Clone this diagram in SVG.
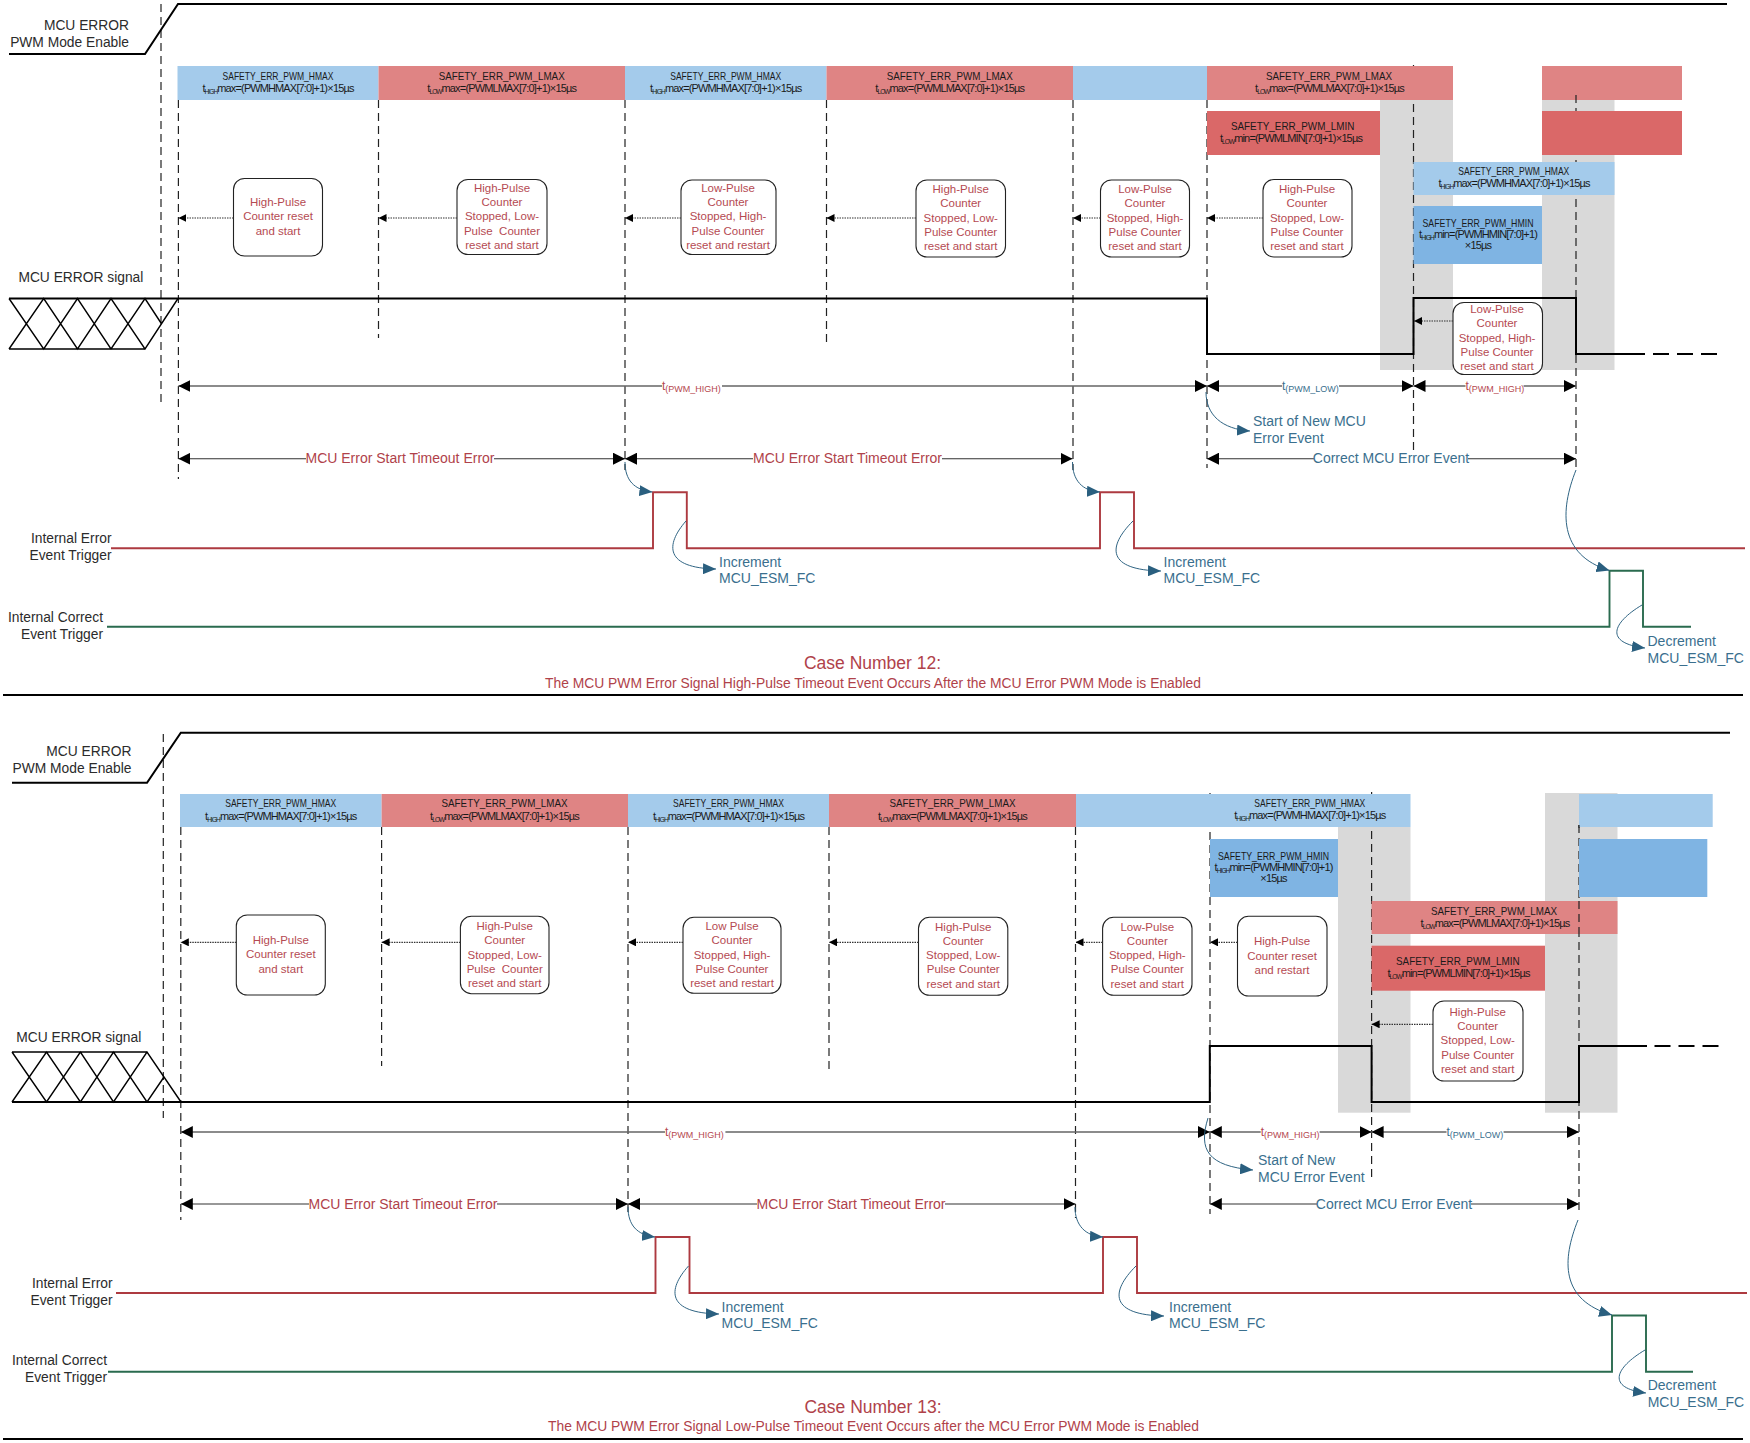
<svg xmlns="http://www.w3.org/2000/svg" width="1750" height="1443" viewBox="0 0 1750 1443">
<style>
text{font-family:"Liberation Sans",Arial,sans-serif}
.lab{font-size:13.8px;fill:#2b2b2b}
.end{text-anchor:end}
.bar{font-size:11px;fill:#1a1a1a;text-anchor:middle}
.eq{letter-spacing:-.9px;word-spacing:-2px}
.s{font-size:6.5px}
.bt{font-size:11.5px;fill:#b54a52;text-anchor:middle}
.pre{white-space:pre}
.r14{font-size:14px;fill:#b0424a}
.t14{font-size:14px;fill:#3a6f8e}
.mid{text-anchor:middle}
.tr{font-size:12px;fill:#b5474f}
.tt{font-size:12px;fill:#3a6f8e}
.sub{font-size:9px}
.title{font-size:17.5px;fill:#b0424a;text-anchor:middle}
.subtitle{font-size:14px;fill:#b0424a;text-anchor:middle}
.blue{fill:#a4cbeb}.dblue{fill:#7fb4e3}.red{fill:#df8484}.dred{fill:#da6868}.gray{fill:#d9d9d9}
.box{fill:#fff;stroke:#222;stroke-width:1.1}
.dash{fill:none;stroke:#222;stroke-width:1.2;stroke-dasharray:8 5}
.sig{fill:none;stroke:#000;stroke-width:2}
.xing{fill:none;stroke:#000;stroke-width:1.4}
.dots{fill:none;stroke:#333;stroke-width:1.2;stroke-dasharray:1.5 1;marker-end:url(#small)}
.seg{fill:none;stroke:#666;stroke-width:1.5;marker-start:url(#big);marker-end:url(#big)}
.to{fill:none;stroke:#333;stroke-width:1.1;marker-start:url(#big);marker-end:url(#big)}
.ierr{fill:none;stroke:#ad3a40;stroke-width:1.9}
.icor{fill:none;stroke:#2a6b4f;stroke-width:1.9}
.curve{fill:none;stroke:#2f6483;stroke-width:1;marker-end:url(#teal)}
.rule{fill:none;stroke:#000;stroke-width:1.8}
</style>
<defs>
<marker id="big" markerUnits="userSpaceOnUse" markerWidth="12" markerHeight="12" refX="12" refY="6" orient="auto-start-reverse"><path d="M0 0L12 6L0 12Z" fill="#000"/></marker>
<marker id="small" markerUnits="userSpaceOnUse" markerWidth="8" markerHeight="8" refX="8" refY="4" orient="auto"><path d="M0 0L8 4L0 8Z" fill="#000"/></marker>
<marker id="teal" markerUnits="userSpaceOnUse" markerWidth="13" markerHeight="11" refX="13" refY="5.5" orient="auto"><path d="M0 0L13 5.5L0 11Z" fill="#2a5f7f"/></marker>
</defs>

<!-- Case 12 -->
<g id="case12-bands">
<rect class="gray" x="1380" y="100" width="73" height="270"/>
<rect class="gray" x="1542" y="100" width="72.5" height="270"/>
</g>

<g id="case12-dividers">
<path class="dash" d="M161 4V407"/>
<path class="dash" d="M178.4 100V479"/>
<path class="dash" d="M378.5 100V338"/>
<path class="dash" d="M625 100V470"/>
<path class="dash" d="M826.5 100V346"/>
<path class="dash" d="M1073 100V470"/>
<path class="dash" d="M1207 100V468"/>
<path class="dash" d="M1413.5 65V453"/>
<path class="dash" d="M1576 95V470"/>
</g>

<g id="case12-bars">
<rect class="blue" x="177.5" y="66" width="201" height="34"/>
<rect class="red" x="378.5" y="66" width="246.5" height="34"/>
<rect class="blue" x="625" y="66" width="201.5" height="34"/>
<rect class="red" x="826.5" y="66" width="246.5" height="34"/>
<rect class="blue" x="1073" y="66" width="134" height="34"/>
<rect class="red" x="1207" y="66" width="246" height="34"/>
<rect class="red" x="1542" y="66" width="140" height="34"/>
<rect class="dred" x="1207" y="111" width="173" height="44"/>
<rect class="dred" x="1542" y="111" width="140" height="44"/>
<rect class="blue" x="1413.5" y="162" width="201" height="33"/>
<rect class="dblue" x="1413.5" y="206" width="128.5" height="58"/>
<path class="dash" d="M1576 95V100" stroke-dasharray="none"/>
<text class="bar" x="278" y="79.5" textLength="111" lengthAdjust="spacingAndGlyphs">SAFETY_ERR_PWM_HMAX</text>
<text class="bar eq" x="278" y="92">t<tspan class="s" dy="2">HIGH</tspan><tspan dy="-2">max = (PWMHMAX [7:0] + 1) × 15 µs</tspan></text>
<text class="bar" x="501.7" y="79.5" textLength="126" lengthAdjust="spacingAndGlyphs">SAFETY_ERR_PWM_LMAX</text>
<text class="bar eq" x="501.7" y="92">t<tspan class="s" dy="2">LOW</tspan><tspan dy="-2">max = (PWMLMAX [7:0] + 1) × 15 µs</tspan></text>
<text class="bar" x="725.7" y="79.5" textLength="111" lengthAdjust="spacingAndGlyphs">SAFETY_ERR_PWM_HMAX</text>
<text class="bar eq" x="725.7" y="92">t<tspan class="s" dy="2">HIGH</tspan><tspan dy="-2">max = (PWMHMAX [7:0] + 1) × 15 µs</tspan></text>
<text class="bar" x="949.7" y="79.5" textLength="126" lengthAdjust="spacingAndGlyphs">SAFETY_ERR_PWM_LMAX</text>
<text class="bar eq" x="949.7" y="92">t<tspan class="s" dy="2">LOW</tspan><tspan dy="-2">max = (PWMLMAX [7:0] + 1) × 15 µs</tspan></text>
<text class="bar" x="1329" y="79.5" textLength="126" lengthAdjust="spacingAndGlyphs">SAFETY_ERR_PWM_LMAX</text>
<text class="bar eq" x="1329.5" y="92">t<tspan class="s" dy="2">LOW</tspan><tspan dy="-2">max = (PWMLMAX [7:0] + 1) × 15 µs</tspan></text>
<text class="bar" x="1292.7" y="130" textLength="123.6" lengthAdjust="spacingAndGlyphs">SAFETY_ERR_PWM_LMIN</text>
<text class="bar eq" x="1291" y="142">t<tspan class="s" dy="2">LOW</tspan><tspan dy="-2">min = (PWMLMIN [7:0] + 1) × 15 µs</tspan></text>
<text class="bar" x="1513.8" y="174.5" textLength="111" lengthAdjust="spacingAndGlyphs">SAFETY_ERR_PWM_HMAX</text>
<text class="bar eq" x="1514" y="187">t<tspan class="s" dy="2">HIGH</tspan><tspan dy="-2">max = (PWMHMAX [7:0] + 1) × 15 µs</tspan></text>
<text class="bar" x="1478" y="227" textLength="111" lengthAdjust="spacingAndGlyphs">SAFETY_ERR_PWM_HMIN</text>
<text class="bar eq" x="1478" y="238">t<tspan class="s" dy="2">HIGH</tspan><tspan dy="-2">min = (PWMHMIN[7:0] + 1)</tspan></text>
<text class="bar eq" x="1478" y="249">× 15 µs</text>
</g>

<g id="case12-enable">
<path class="sig" d="M9 54H145L178 4H1727"/>
<text class="lab end" x="129" y="30">MCU ERROR</text>
<text class="lab end" x="129" y="47">PWM Mode Enable</text>
</g>

<g id="case12-signal">
<path class="xing" d="M9 298.5L43.7 349L77.5 298.5L111 349L145 298.5L161 323M9 349L43.7 298.5L77.5 349L111 298.5L145 349L178 298.5M9 349H145"/>
<path class="sig" d="M9 298.5H1207V354H1413.5V298H1576V354H1645"/>
<path class="sig" d="M1653 354H1717" stroke-dasharray="16 8"/>
<text class="lab" x="18.4" y="282">MCU ERROR signal</text>
</g>

<g id="case12-b1"><rect class="box" x="233.5" y="178.5" width="89" height="77.5" rx="11"/>
<text class="bt"><tspan x="278" y="206">High-Pulse</tspan><tspan x="278" y="220.3">Counter reset</tspan><tspan x="278" y="234.6">and start</tspan></text></g>
<g id="case12-b2"><rect class="box" x="457" y="179.5" width="90" height="75" rx="11"/>
<text class="bt pre"><tspan x="502" y="191.7">High-Pulse</tspan><tspan x="502" y="206">Counter</tspan><tspan x="502" y="220.3">Stopped, Low-</tspan><tspan x="502" y="234.6">Pulse  Counter</tspan><tspan x="502" y="248.9">reset and start</tspan></text></g>
<g id="case12-b3"><rect class="box" x="681" y="180" width="95" height="74.5" rx="11"/>
<text class="bt"><tspan x="728" y="191.7">Low-Pulse</tspan><tspan x="728" y="206">Counter</tspan><tspan x="728" y="220.3">Stopped, High-</tspan><tspan x="728" y="234.6">Pulse Counter</tspan><tspan x="728" y="248.9">reset and restart</tspan></text></g>
<g id="case12-b4"><rect class="box" x="916" y="180" width="89.5" height="77" rx="11"/>
<text class="bt"><tspan x="960.7" y="193">High-Pulse</tspan><tspan x="960.7" y="207.3">Counter</tspan><tspan x="960.7" y="221.6">Stopped, Low-</tspan><tspan x="960.7" y="235.9">Pulse Counter</tspan><tspan x="960.7" y="250.2">reset and start</tspan></text></g>
<g id="case12-b5"><rect class="box" x="1100.5" y="180" width="89" height="77" rx="11"/>
<text class="bt"><tspan x="1145" y="193">Low-Pulse</tspan><tspan x="1145" y="207.3">Counter</tspan><tspan x="1145" y="221.6">Stopped, High-</tspan><tspan x="1145" y="235.9">Pulse Counter</tspan><tspan x="1145" y="250.2">reset and start</tspan></text></g>
<g id="case12-b6"><rect class="box" x="1263" y="179.5" width="89" height="77.5" rx="11"/>
<text class="bt"><tspan x="1307" y="193">High-Pulse</tspan><tspan x="1307" y="207.3">Counter</tspan><tspan x="1307" y="221.6">Stopped, Low-</tspan><tspan x="1307" y="235.9">Pulse Counter</tspan><tspan x="1307" y="250.2">reset and start</tspan></text></g>
<g id="case12-b7"><rect class="box" x="1453" y="302.5" width="89.5" height="72" rx="11"/>
<text class="bt"><tspan x="1497" y="313">Low-Pulse</tspan><tspan x="1497" y="327.3">Counter</tspan><tspan x="1497" y="341.6">Stopped, High-</tspan><tspan x="1497" y="355.9">Pulse Counter</tspan><tspan x="1497" y="370.2">reset and start</tspan></text></g>

<g id="case12-pulses">
<path class="ierr" d="M111 548.3H653V492.3H686.8V548.3H1100V492.3H1134V548.3H1745"/>
<path class="icor" d="M107 626.7H1609.5V570.7H1643V626.7H1691"/>
<text class="lab end" x="111.5" y="543">Internal Error</text>
<text class="lab end" x="111.5" y="560">Event Trigger</text>
<text class="lab end" x="103" y="622">Internal Correct</text>
<text class="lab end" x="103" y="639">Event Trigger</text>
</g>

<g id="case12-connectors">
<path class="dots" d="M233.5 218H178.4"/>
<path class="dots" d="M457 218H378.5"/>
<path class="dots" d="M681 218H625"/>
<path class="dots" d="M916 218H826.5"/>
<path class="dots" d="M1100.5 218H1073"/>
<path class="dots" d="M1263 218H1207"/>
<path class="dots" d="M1453 321H1414"/>
<path class="seg" d="M178.4 386H662M722 386H1207"/>
<path class="seg" d="M1207 386H1282M1339 386H1413.5"/>
<path class="seg" d="M1413.5 386H1465.5M1523.6 386H1576"/>
<path class="to" d="M178.4 458.7H306M494 458.7H625"/>
<path class="to" d="M625 458.7H753M942 458.7H1072.5"/>
<path class="to" d="M1207 458.7H1314M1468 458.7H1576"/>
<path class="curve" d="M625 462C625 480 634 490 652.4 492"/>
<path class="curve" d="M1072.5 462C1072.5 480 1082 491 1100 492"/>
<path class="curve" d="M1206 392C1206 415 1222 429 1250 431"/>
<path class="curve" d="M686 521C665 545 665 568 716 569"/>
<path class="curve" d="M1133 521C1107 547 1107 570 1161 571"/>
<path class="curve" d="M1576 470C1560 510 1558 555 1609.5 570.5"/>
<path class="curve" d="M1642 605C1612 623 1604 643 1645 648"/>
</g>

<g id="case12-labels">
<text class="tr" x="662" y="390">t<tspan class="sub" dy="2">(PWM_HIGH)</tspan></text>
<text class="tt" x="1282" y="390">t<tspan class="sub" dy="2">(PWM_LOW)</tspan></text>
<text class="tr" x="1465.5" y="390">t<tspan class="sub" dy="2">(PWM_HIGH)</tspan></text>
<text class="r14 mid" x="400" y="463">MCU Error Start Timeout Error</text>
<text class="r14 mid" x="847.5" y="463">MCU Error Start Timeout Error</text>
<text class="t14 mid" x="1391" y="463">Correct MCU Error Event</text>
<text class="t14" x="1253" y="426">Start of New MCU</text>
<text class="t14" x="1253" y="443">Error Event</text>
<text class="t14" x="719" y="566.7">Increment</text>
<text class="t14" x="719" y="583">MCU_ESM_FC</text>
<text class="t14" x="1163.6" y="566.7">Increment</text>
<text class="t14" x="1163.6" y="583">MCU_ESM_FC</text>
<text class="t14" x="1647.5" y="645.5">Decrement</text>
<text class="t14" x="1647.5" y="662.5">MCU_ESM_FC</text>
<text class="title" x="872.5" y="669">Case Number 12:</text>
<text class="subtitle" x="873" y="687.5" textLength="656" lengthAdjust="spacingAndGlyphs">The MCU PWM Error Signal High-Pulse Timeout Event Occurs After the MCU Error PWM Mode is Enabled</text>
<path class="rule" d="M3 695H1743"/>
</g>

<!-- Case 13 -->
<g id="case13-bands">
<rect class="gray" x="1338" y="827" width="72.5" height="285.7"/>
<rect class="gray" x="1545" y="793" width="72.5" height="319.7"/>
</g>

<g id="case13-dividers">
<path class="dash" d="M163.3 734V1118"/>
<path class="dash" d="M180.8 827V1220"/>
<path class="dash" d="M381.6 827V1066"/>
<path class="dash" d="M628 827V1216"/>
<path class="dash" d="M829 827V1074"/>
<path class="dash" d="M1075.5 827V1218"/>
<path class="dash" d="M1210 793V1214"/>
<path class="dash" d="M1371.6 792V1180"/>
<path class="dash" d="M1579 825V1212"/>
</g>

<g id="case13-bars">
<rect class="blue" x="180" y="794" width="201.6" height="33"/>
<rect class="red" x="381.6" y="794" width="246.4" height="33"/>
<rect class="blue" x="628" y="794" width="201" height="33"/>
<rect class="red" x="829" y="794" width="247" height="33"/>
<rect class="blue" x="1076" y="794" width="134" height="33"/>
<rect class="blue" x="1210" y="794" width="200.5" height="33"/>
<rect class="blue" x="1579" y="794" width="133.7" height="33"/>
<rect class="dblue" x="1210" y="839" width="128" height="58"/>
<rect class="dblue" x="1579" y="839" width="128.3" height="58"/>
<rect class="red" x="1371.6" y="901" width="245.9" height="33"/>
<rect class="dred" x="1371.6" y="945.7" width="173.4" height="45"/>
<path class="dash" d="M1579 825V828M1579 901V934"/>
<text class="bar" x="280.7" y="807.3" textLength="111" lengthAdjust="spacingAndGlyphs">SAFETY_ERR_PWM_HMAX</text>
<text class="bar eq" x="280.7" y="820">t<tspan class="s" dy="2">HIGH</tspan><tspan dy="-2">max = (PWMHMAX [7:0] + 1) × 15 µs</tspan></text>
<text class="bar" x="504.5" y="807.3" textLength="126" lengthAdjust="spacingAndGlyphs">SAFETY_ERR_PWM_LMAX</text>
<text class="bar eq" x="504.5" y="820">t<tspan class="s" dy="2">LOW</tspan><tspan dy="-2">max = (PWMLMAX [7:0] + 1) × 15 µs</tspan></text>
<text class="bar" x="728.5" y="807.3" textLength="111" lengthAdjust="spacingAndGlyphs">SAFETY_ERR_PWM_HMAX</text>
<text class="bar eq" x="728.5" y="820">t<tspan class="s" dy="2">HIGH</tspan><tspan dy="-2">max = (PWMHMAX [7:0] + 1) × 15 µs</tspan></text>
<text class="bar" x="952.5" y="807.3" textLength="126" lengthAdjust="spacingAndGlyphs">SAFETY_ERR_PWM_LMAX</text>
<text class="bar eq" x="952.5" y="820">t<tspan class="s" dy="2">LOW</tspan><tspan dy="-2">max = (PWMLMAX [7:0] + 1) × 15 µs</tspan></text>
<text class="bar" x="1309.8" y="806.7" textLength="111" lengthAdjust="spacingAndGlyphs">SAFETY_ERR_PWM_HMAX</text>
<text class="bar eq" x="1309.8" y="819.3">t<tspan class="s" dy="2">HIGH</tspan><tspan dy="-2">max = (PWMHMAX [7:0] + 1) × 15 µs</tspan></text>
<text class="bar" x="1273.5" y="860" textLength="111" lengthAdjust="spacingAndGlyphs">SAFETY_ERR_PWM_HMIN</text>
<text class="bar eq" x="1273.5" y="871">t<tspan class="s" dy="2">HIGH</tspan><tspan dy="-2">min = (PWMHMIN[7:0] + 1)</tspan></text>
<text class="bar eq" x="1273.5" y="881.7">× 15 µs</text>
<text class="bar" x="1494" y="915" textLength="126" lengthAdjust="spacingAndGlyphs">SAFETY_ERR_PWM_LMAX</text>
<text class="bar eq" x="1495" y="927">t<tspan class="s" dy="2">LOW</tspan><tspan dy="-2">max = (PWMLMAX [7:0] + 1) × 15 µs</tspan></text>
<text class="bar" x="1457.8" y="965.3" textLength="123.6" lengthAdjust="spacingAndGlyphs">SAFETY_ERR_PWM_LMIN</text>
<text class="bar eq" x="1458.5" y="977.3">t<tspan class="s" dy="2">LOW</tspan><tspan dy="-2">min = (PWMLMIN [7:0] + 1) × 15 µs</tspan></text>
</g>

<g id="case13-enable">
<path class="sig" d="M12 782.7H147L180.8 732.7H1730"/>
<text class="lab end" x="131.4" y="756">MCU ERROR</text>
<text class="lab end" x="131.4" y="773">PWM Mode Enable</text>
</g>

<g id="case13-signal">
<path class="xing" d="M12 1052L46.5 1102L80.4 1052L113.5 1102L147 1052L181 1102M12 1102L46.5 1052L80.4 1102L113.5 1052L147 1102L164 1077M12 1052H147"/>
<path class="sig" d="M12 1102H1209.8V1046H1371.6V1102H1579V1046H1647"/>
<path class="sig" d="M1654.5 1046H1720" stroke-dasharray="16 8"/>
<text class="lab" x="16.3" y="1041.7">MCU ERROR signal</text>
</g>

<g id="case13-b1"><rect class="box" x="236.3" y="915" width="89" height="80" rx="11"/>
<text class="bt"><tspan x="280.8" y="944">High-Pulse</tspan><tspan x="280.8" y="958.3">Counter reset</tspan><tspan x="280.8" y="972.6">and start</tspan></text></g>
<g id="case13-b2"><rect class="box" x="460.4" y="916.3" width="88.6" height="77.4" rx="11"/>
<text class="bt pre"><tspan x="504.7" y="930">High-Pulse</tspan><tspan x="504.7" y="944.3">Counter</tspan><tspan x="504.7" y="958.6">Stopped, Low-</tspan><tspan x="504.7" y="972.9">Pulse  Counter</tspan><tspan x="504.7" y="987.2">reset and start</tspan></text></g>
<g id="case13-b3"><rect class="box" x="683" y="917.3" width="98" height="76" rx="11"/>
<text class="bt"><tspan x="732" y="930">Low Pulse</tspan><tspan x="732" y="944.3">Counter</tspan><tspan x="732" y="958.6">Stopped, High-</tspan><tspan x="732" y="972.9">Pulse Counter</tspan><tspan x="732" y="987.2">reset and restart</tspan></text></g>
<g id="case13-b4"><rect class="box" x="918.5" y="917.3" width="89.3" height="78" rx="11"/>
<text class="bt"><tspan x="963.2" y="930.5">High-Pulse</tspan><tspan x="963.2" y="944.8">Counter</tspan><tspan x="963.2" y="959.1">Stopped, Low-</tspan><tspan x="963.2" y="973.4">Pulse Counter</tspan><tspan x="963.2" y="987.7">reset and start</tspan></text></g>
<g id="case13-b5"><rect class="box" x="1102.6" y="917.3" width="89.4" height="78" rx="11"/>
<text class="bt"><tspan x="1147.3" y="930.5">Low-Pulse</tspan><tspan x="1147.3" y="944.8">Counter</tspan><tspan x="1147.3" y="959.1">Stopped, High-</tspan><tspan x="1147.3" y="973.4">Pulse Counter</tspan><tspan x="1147.3" y="987.7">reset and start</tspan></text></g>
<g id="case13-b6"><rect class="box" x="1237.5" y="916.3" width="89.5" height="79.7" rx="11"/>
<text class="bt"><tspan x="1282" y="945.3">High-Pulse</tspan><tspan x="1282" y="959.6">Counter reset</tspan><tspan x="1282" y="974">and restart</tspan></text></g>
<g id="case13-b7"><rect class="box" x="1433" y="1001" width="90" height="80" rx="11"/>
<text class="bt"><tspan x="1477.7" y="1015.7">High-Pulse</tspan><tspan x="1477.7" y="1030">Counter</tspan><tspan x="1477.7" y="1044.3">Stopped, Low-</tspan><tspan x="1477.7" y="1058.6">Pulse Counter</tspan><tspan x="1477.7" y="1072.9">reset and start</tspan></text></g>

<g id="case13-pulses">
<path class="ierr" d="M116 1293H655.5V1237H689.5V1293H1103V1237H1137V1293H1747"/>
<path class="icor" d="M108 1371.7H1612V1315.5H1646V1371.7H1693"/>
<text class="lab end" x="112.5" y="1288">Internal Error</text>
<text class="lab end" x="112.5" y="1305">Event Trigger</text>
<text class="lab end" x="107" y="1365">Internal Correct</text>
<text class="lab end" x="107" y="1382">Event Trigger</text>
</g>

<g id="case13-connectors">
<path class="dots" d="M236.3 942.3H180.8"/>
<path class="dots" d="M460.4 942.3H381.6"/>
<path class="dots" d="M683 942.3H628"/>
<path class="dots" d="M918.5 942.3H829"/>
<path class="dots" d="M1102.6 942.3H1075.5"/>
<path class="dots" d="M1237.5 942.3H1210"/>
<path class="dots" d="M1433 1024.3H1371.6"/>
<path class="seg" d="M180.8 1132H665M725.4 1132H1209.8"/>
<path class="seg" d="M1209.8 1132H1260.7M1319.6 1132H1371.6"/>
<path class="seg" d="M1371.6 1132H1446.5M1503.6 1132H1579"/>
<path class="to" d="M180.8 1204H309M497 1204H628"/>
<path class="to" d="M628 1204H757M945 1204H1075.5"/>
<path class="to" d="M1209.8 1204H1317M1471 1204H1579"/>
<path class="curve" d="M628 1207C628 1225 637 1235 655 1237"/>
<path class="curve" d="M1075 1207C1075 1225 1085 1236 1103 1237"/>
<path class="curve" d="M1208 1118C1198 1150 1208 1166 1253 1170"/>
<path class="curve" d="M688.5 1266C667 1290 667 1313 719 1314"/>
<path class="curve" d="M1136 1266C1110 1292 1110 1315 1164 1316"/>
<path class="curve" d="M1578 1220C1562 1260 1560 1300 1612 1315"/>
<path class="curve" d="M1645 1350C1615 1368 1606 1388 1646 1393"/>
</g>

<g id="case13-labels">
<text class="tr" x="665" y="1136">t<tspan class="sub" dy="2">(PWM_HIGH)</tspan></text>
<text class="tr" x="1260.7" y="1136">t<tspan class="sub" dy="2">(PWM_HIGH)</tspan></text>
<text class="tt" x="1446.5" y="1136">t<tspan class="sub" dy="2">(PWM_LOW)</tspan></text>
<text class="r14 mid" x="403" y="1208.5">MCU Error Start Timeout Error</text>
<text class="r14 mid" x="851" y="1208.5">MCU Error Start Timeout Error</text>
<text class="t14 mid" x="1394" y="1208.5">Correct MCU Error Event</text>
<text class="t14" x="1258" y="1165">Start of New</text>
<text class="t14" x="1258" y="1182">MCU Error Event</text>
<text class="t14" x="721.5" y="1312">Increment</text>
<text class="t14" x="721.5" y="1328">MCU_ESM_FC</text>
<text class="t14" x="1169" y="1312">Increment</text>
<text class="t14" x="1169" y="1328">MCU_ESM_FC</text>
<text class="t14" x="1647.7" y="1390">Decrement</text>
<text class="t14" x="1647.7" y="1407">MCU_ESM_FC</text>
<text class="title" x="873" y="1413">Case Number 13:</text>
<text class="subtitle" x="873.5" y="1431" textLength="651" lengthAdjust="spacingAndGlyphs">The MCU PWM Error Signal Low-Pulse Timeout Event Occurs after the MCU Error PWM Mode is Enabled</text>
<path class="rule" d="M3 1439H1743"/>
</g>
</svg>
